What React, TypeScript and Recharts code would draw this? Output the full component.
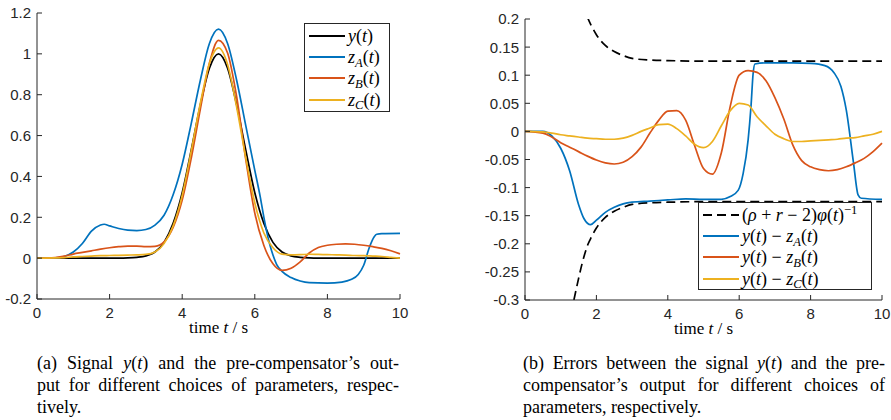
import { LineChart, Line, XAxis, YAxis, Legend } from 'recharts';

// ---- data ----
const T_GRID = [0, 0.5, 0.75, 1, 1.25, 1.5, 1.75, 2, 2.25, 2.5, 2.75, 3, 3.25, 3.5, 3.75, 4, 4.25, 4.5, 4.75, 5, 5.25, 5.5, 5.75, 6, 6.25, 6.5, 6.75, 7, 7.25, 7.5, 7.75, 8, 8.25, 8.5, 8.75, 9, 9.25, 9.5, 9.75, 10];

const Y_SIGNAL = [0, 0, 0, 0, 0, 0, 0, 0, 0, 0.001, 0.004, 0.011, 0.03, 0.077, 0.17, 0.32, 0.53, 0.75, 0.93, 1.0, 0.93, 0.75, 0.53, 0.32, 0.17, 0.077, 0.03, 0.011, 0.004, 0.001, 0, 0, 0, 0, 0, 0, 0, 0, 0, 0];
const Z_B = [0, 0.003, 0.01, 0.02, 0.028, 0.036, 0.044, 0.051, 0.056, 0.059, 0.059, 0.056, 0.058, 0.08, 0.15, 0.284, 0.49, 0.73, 0.955, 1.066, 1.004, 0.79, 0.485, 0.22, 0.062, -0.028, -0.06, -0.049, -0.018, 0.025, 0.052, 0.063, 0.068, 0.07, 0.068, 0.063, 0.056, 0.048, 0.036, 0.021];
const Z_C = [0, 0.001, 0.003, 0.006, 0.008, 0.01, 0.012, 0.013, 0.014, 0.015, 0.016, 0.018, 0.03, 0.071, 0.158, 0.307, 0.525, 0.758, 0.953, 1.029, 0.948, 0.74, 0.493, 0.27, 0.123, 0.051, 0.02, 0.016, 0.017, 0.019, 0.018, 0.017, 0.016, 0.015, 0.013, 0.012, 0.01, 0.008, 0.004, 0];

const T_ZA = [0, 0.5, 0.75, 1, 1.25, 1.5, 1.75, 1.85, 2, 2.25, 2.5, 2.75, 3, 3.25, 3.5, 3.75, 4, 4.25, 4.5, 4.75, 5, 5.25, 5.5, 5.75, 6, 6.15, 6.25, 6.4, 6.5, 6.6, 6.75, 7, 7.25, 7.5, 8, 8.4, 8.65, 8.85, 9, 9.15, 9.29, 9.36, 9.5, 10];
const Z_A = [0, 0.001, 0.008, 0.03, 0.072, 0.132, 0.162, 0.166, 0.158, 0.145, 0.137, 0.135, 0.14, 0.162, 0.21, 0.31, 0.46, 0.66, 0.871, 1.051, 1.121, 1.051, 0.871, 0.65, 0.43, 0.3, 0.2, 0.075, 0.015, -0.03, -0.065, -0.095, -0.112, -0.12, -0.122, -0.117, -0.105, -0.08, -0.035, 0.05, 0.105, 0.117, 0.12, 0.121];

const E_B = [0, -0.003, -0.01, -0.02, -0.028, -0.036, -0.044, -0.051, -0.056, -0.058, -0.055, -0.045, -0.028, -0.003, 0.02, 0.036, 0.037, 0.02, -0.025, -0.066, -0.076, -0.038, 0.045, 0.1, 0.108, 0.105, 0.09, 0.06, 0.022, -0.024, -0.052, -0.063, -0.068, -0.07, -0.068, -0.063, -0.056, -0.048, -0.036, -0.021];
const E_C = [0, -0.001, -0.003, -0.006, -0.008, -0.01, -0.012, -0.013, -0.014, -0.014, -0.012, -0.007, 0, 0.006, 0.012, 0.013, 0.005, -0.008, -0.023, -0.029, -0.018, 0.01, 0.037, 0.05, 0.047, 0.026, 0.01, -0.005, -0.013, -0.018, -0.018, -0.017, -0.016, -0.015, -0.014, -0.012, -0.011, -0.008, -0.005, 0];

const T_EA = [0, 0.5, 0.75, 1, 1.25, 1.5, 1.65, 1.84, 2, 2.25, 2.5, 2.75, 3, 3.5, 4, 4.5, 5, 5.5, 5.75, 5.97, 6.11, 6.25, 6.33, 6.39, 6.44, 6.75, 7.5, 8, 8.4, 8.65, 8.85, 9, 9.2, 9.33, 9.42, 10];
const E_A = [0, 0, -0.008, -0.03, -0.07, -0.13, -0.155, -0.166, -0.158, -0.144, -0.135, -0.129, -0.126, -0.124, -0.122, -0.12, -0.121, -0.121, -0.116, -0.105, -0.075, -0.015, 0.044, 0.103, 0.12, 0.122, 0.122, 0.121, 0.117, 0.105, 0.08, 0.038, -0.055, -0.113, -0.119, -0.121];

const T_BOUND = [1.37, 1.5, 1.6, 1.77, 1.86, 2, 2.25, 2.5, 2.75, 3, 3.5, 4, 5, 10];
const B_UPPER = [0.3, 0.262, 0.235, 0.2, 0.188, 0.172, 0.153, 0.142, 0.135, 0.13, 0.127, 0.126, 0.125, 0.125];
const B_LOWER = [-0.3, -0.262, -0.235, -0.2, -0.188, -0.172, -0.153, -0.142, -0.135, -0.13, -0.127, -0.126, -0.125, -0.125];

const X_TICKS = [0, 2, 4, 6, 8, 10];
const Y_TICKS_A = [-0.2, 0, 0.2, 0.4, 0.6, 0.8, 1, 1.2];
const Y_TICKS_B = [-0.3, -0.25, -0.2, -0.15, -0.1, -0.05, 0, 0.05, 0.1, 0.15, 0.2];

// ---- styling ----
const AXIS = '#262626';
const BLUE = '#0072BD';
const ORANGE = '#D95319';
const YELLOW = '#EDB120';
const SANS = '"Liberation Sans", Arial, Helvetica, sans-serif';
const SERIF = '"Liberation Serif", "Times New Roman", serif';

const zip = (ts: number[], vs: number[]) => ts.map((t, i) => ({ t, v: vs[i] }));

function XTick(props: any) {
  const { x, y, payload } = props;
  return (
    <g>
      <line x1={x} y1={y} x2={x} y2={y - 5} stroke={AXIS} />
      <text x={x} y={y + 19} textAnchor="middle" fontSize={15} fontFamily={SANS} fill={AXIS}>
        {payload.value}
      </text>
    </g>
  );
}

function YTick(props: any) {
  const { x, y, payload } = props;
  return (
    <g>
      <line x1={x} y1={y} x2={x + 5} y2={y} stroke={AXIS} />
      <text x={x - 6} y={y + 5.4} textAnchor="end" fontSize={15} fontFamily={SANS} fill={AXIS}>
        {payload.value}
      </text>
    </g>
  );
}

const xLabel = (cx: number) => (props: any) => {
  const vb = props && props.viewBox;
  const x = vb && vb.width ? vb.x + vb.width / 2 : cx;
  const y = vb && vb.y ? vb.y + 34 : 333;
  return (
    <text x={x} y={y} textAnchor="middle" fontSize={17} fontFamily={SERIF} fill="#000">
      time <tspan fontStyle="italic">t</tspan> / s
    </text>
  );
};

const Sub = ({ children }: any) => (
  <span style={{ fontSize: '0.7em', fontStyle: 'italic', position: 'relative', top: '0.3em' }}>{children}</span>
);
const Sup = ({ children }: any) => (
  <span style={{ fontSize: '0.7em', position: 'relative', top: '-0.55em' }}>{children}</span>
);

const zLabel = (s: string) => (
  <>
    <i>z</i>
    <Sub>{s}</Sub>(<i>t</i>)
  </>
);
const eLabel = (s: string) => (
  <>
    <i>y</i>(<i>t</i>) − <i>z</i>
    <Sub>{s}</Sub>(<i>t</i>)
  </>
);

const LEGEND_A = [
  { color: '#000', dash: undefined, label: <><i>y</i>(<i>t</i>)</> },
  { color: BLUE, dash: undefined, label: zLabel('A') },
  { color: ORANGE, dash: undefined, label: zLabel('B') },
  { color: YELLOW, dash: undefined, label: zLabel('C') },
];

const LEGEND_B = [
  {
    color: '#000',
    dash: '9 5',
    label: (
      <>
        (<i>ρ</i> + <i>r</i> − 2)<i>φ</i>(<i>t</i>)<Sup>−1</Sup>
      </>
    ),
  },
  { color: BLUE, dash: undefined, label: eLabel('A') },
  { color: ORANGE, dash: undefined, label: eLabel('B') },
  { color: YELLOW, dash: undefined, label: eLabel('C') },
];

function LegendBox({ rows, width, height }: any) {
  return (
    <div
      style={{
        border: `1px solid ${AXIS}`,
        background: '#fff',
        width,
        height,
        boxSizing: 'border-box',
        paddingTop: 1,
      }}
    >
      {rows.map((r: any, i: number) => (
        <div key={i} style={{ display: 'flex', alignItems: 'center', height: 21.3 }}>
          <svg width={43} height={4} style={{ flex: 'none' }}>
            <line x1={4} x2={40} y1={2} y2={2} stroke={r.color} strokeWidth={2} strokeDasharray={r.dash} />
          </svg>
          <span style={{ fontFamily: SERIF, fontSize: 18, lineHeight: 1, whiteSpace: 'nowrap', color: '#000' }}>
            {r.label}
          </span>
        </div>
      ))}
    </div>
  );
}

const line = (data: any[], color: string, dash?: string) => (
  <Line
    data={data}
    dataKey="v"
    type="monotone"
    stroke={color}
    strokeWidth={1.7}
    strokeDasharray={dash}
    dot={false}
    activeDot={false}
    isAnimationActive={false}
  />
);

function Caption({ left, top, lines }: any) {
  return (
    <div style={{ position: 'absolute', left, top, width: 362, fontFamily: SERIF, fontSize: 18, lineHeight: '22px', color: '#000' }}>
      {lines.map((l: any, i: number) => (
        <div
          key={i}
          style={{
            textAlign: 'justify',
            textAlignLast: i < lines.length - 1 ? 'justify' : 'left',
            whiteSpace: 'nowrap',
          }}
        >
          {l}
        </div>
      ))}
    </div>
  );
}

export default function App() {
  return (
    <div style={{ position: 'absolute', left: 0, top: 0, width: 891, height: 420, background: '#fff', overflow: 'hidden' }}>
      <div style={{ position: 'absolute', left: 0, top: 0 }}>
        <LineChart width={445} height={340} margin={{ top: 13, right: 45, bottom: 0, left: 0 }}>
          <XAxis
            type="number"
            dataKey="t"
            domain={[0, 10]}
            ticks={X_TICKS}
            height={41}
            tickSize={0}
            tickMargin={0}
            tickLine={false}
            tick={<XTick />}
            axisLine={{ stroke: AXIS }}
            label={xLabel(218.5)}
          />
          <YAxis
            type="number"
            domain={[-0.2, 1.2]}
            ticks={Y_TICKS_A}
            width={37}
            tickSize={0}
            tickMargin={0}
            tickLine={false}
            tick={<YTick />}
            axisLine={{ stroke: AXIS }}
            allowDataOverflow
          />
          {line(zip(T_GRID, Y_SIGNAL), '#000')}
          {line(zip(T_ZA, Z_A), BLUE)}
          {line(zip(T_GRID, Z_B), ORANGE)}
          {line(zip(T_GRID, Z_C), YELLOW)}
          <Legend
            layout="vertical"
            align="center"
            verticalAlign="middle"
            width={86}
            wrapperStyle={{ left: 304, top: 23, width: 86 }}
            content={() => <LegendBox rows={LEGEND_A} width={86} height={89} />}
          />
        </LineChart>
      </div>

      <div style={{ position: 'absolute', left: 445, top: 0 }}>
        <LineChart width={446} height={340} margin={{ top: 19, right: 9, bottom: 0, left: 0 }}>
          <XAxis
            type="number"
            dataKey="t"
            domain={[0, 10]}
            ticks={X_TICKS}
            height={40}
            tickSize={0}
            tickMargin={0}
            tickLine={false}
            tick={<XTick />}
            axisLine={{ stroke: AXIS }}
            label={xLabel(258.5)}
          />
          <YAxis
            type="number"
            domain={[-0.3, 0.2]}
            ticks={Y_TICKS_B}
            width={80}
            tickSize={0}
            tickMargin={0}
            tickLine={false}
            tick={<YTick />}
            axisLine={{ stroke: AXIS }}
            allowDataOverflow
          />
          {line(zip(T_BOUND, B_UPPER), '#000', '9 5')}
          {line(zip(T_BOUND, B_LOWER), '#000', '9 5')}
          {line(zip(T_EA, E_A), BLUE)}
          {line(zip(T_GRID, E_B), ORANGE)}
          {line(zip(T_GRID, E_C), YELLOW)}
          <Legend
            layout="vertical"
            align="center"
            verticalAlign="middle"
            width={174}
            wrapperStyle={{ left: 253, top: 202, width: 174 }}
            content={() => <LegendBox rows={LEGEND_B} width={174} height={88} />}
          />
        </LineChart>
      </div>

      <Caption
        left={37}
        top={352}
        lines={[
          <>(a) Signal <i>y</i>(<i>t</i>) and the pre-compensator’s out-</>,
          'put for different choices of parameters, respec-',
          'tively.',
        ]}
      />
      <Caption
        left={523}
        top={352}
        lines={[
          <>(b) Errors between the signal <i>y</i>(<i>t</i>) and the pre-</>,
          'compensator’s output for different choices of',
          'parameters, respectively.',
        ]}
      />
    </div>
  );
}
